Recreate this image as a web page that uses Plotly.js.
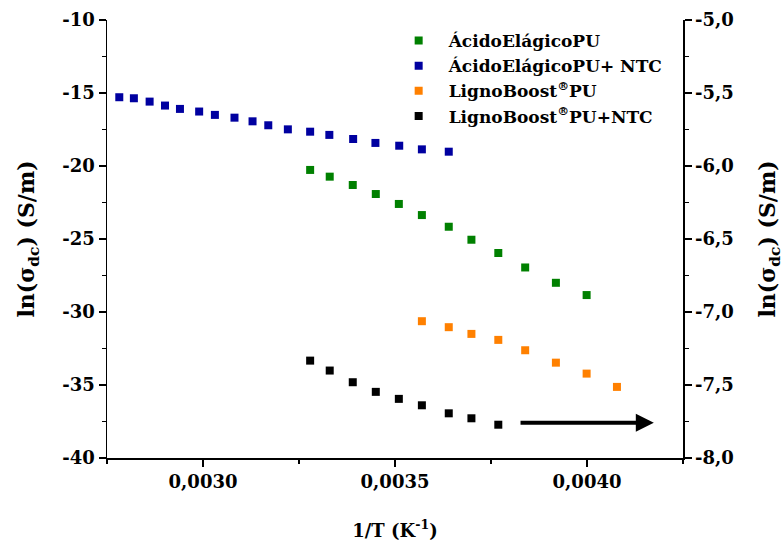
<!DOCTYPE html>
<html>
<head>
<meta charset="utf-8">
<script src="https://cdn.plot.ly/plotly-3.0.1.min.js"></script>
<style>html,body{margin:0;padding:0;background:#fff;}#chart{width:784px;height:544px;}</style>
</head>
<body>
<div id="chart"></div>
<script>
// ---- data ----
const seriesNames = ['ÁcidoElágicoPU', 'ÁcidoElágicoPU+ NTC', 'LignoBoost<sup>®</sup>PU', 'LignoBoost<sup>®</sup>PU+NTC'];

const aePU_x = [0.003279, 0.00333, 0.00339, 0.00345, 0.00351, 0.00357, 0.00364, 0.003699, 0.003769, 0.003839, 0.003919, 0.003999];
const aePU_y = [-20.27, -20.73, -21.30, -21.92, -22.60, -23.36, -24.16, -25.05, -25.96, -26.95, -28.00, -28.84];

const aeNTC_x = [0.002782, 0.00282, 0.002861, 0.002901, 0.00294, 0.00299, 0.003031, 0.003082, 0.003129, 0.00317, 0.003221, 0.003279, 0.003329, 0.003391, 0.003449, 0.003511, 0.00357, 0.00364];
const aeNTC_y = [-15.29, -15.36, -15.59, -15.86, -16.09, -16.27, -16.50, -16.69, -16.94, -17.21, -17.49, -17.65, -17.87, -18.15, -18.42, -18.61, -18.86, -19.02];

const lbPU_x = [0.00357, 0.00364, 0.003699, 0.003769, 0.003839, 0.003919, 0.003999, 0.004078];
const lbPU_y = [-30.63, -31.04, -31.50, -31.91, -32.62, -33.47, -34.22, -35.13];

// plotted against the right axis
const lbNTC_x = [0.003279, 0.00333, 0.00339, 0.00345, 0.00351, 0.00357, 0.00364, 0.003699, 0.003769];
const lbNTC_y = [-7.333, -7.401, -7.481, -7.547, -7.595, -7.639, -7.694, -7.728, -7.772];

// ---- ticks ----
const xTickVals = [0.0030, 0.0035, 0.0040];
const xTickText = ['0,0030', '0,0035', '0,0040'];
const xMinorVals = [0.00275, 0.00325, 0.00375, 0.00425];
const yTickVals = [-40, -35, -30, -25, -20, -15, -10];
const yTickText = ['-40', '-35', '-30', '-25', '-20', '-15', '-10'];
const yMinorVals = [-37.5, -32.5, -27.5, -22.5, -17.5, -12.5];
const y2TickVals = [-8.0, -7.5, -7.0, -6.5, -6.0, -5.5, -5.0];
const y2TickText = ['-8,0', '-7,5', '-7,0', '-6,5', '-6,0', '-5,5', '-5,0'];
const y2MinorVals = [-7.75, -7.25, -6.75, -6.25, -5.75, -5.25];

// arrow pointing to the right axis
const arrowFromX = 0.003823, arrowToX = 0.004174, arrowY = -37.58;

const FONT = 'DejaVu Serif, Liberation Serif, serif';
const colors = ['#008000', '#0000A0', '#FF8000', '#000000'];

function mk(x, y, i, yaxis) {
  return {
    x: x, y: y, type: 'scatter', mode: 'markers', name: seriesNames[i],
    yaxis: yaxis || 'y',
    marker: {symbol: 'square', size: 8, color: colors[i], line: {width: 0}}
  };
}

const traces = [
  mk(aePU_x, aePU_y, 0),
  mk(aeNTC_x, aeNTC_y, 1),
  mk(lbPU_x, lbPU_y, 2),
  mk(lbNTC_x, lbNTC_y, 3, 'y2')
];

const axLine = {showline: true, linecolor: '#000', linewidth: 1.5, zeroline: false, showgrid: false};
const tickFont = {family: FONT, size: 18, color: '#000', weight: 'bold'};
const yTitleFont = {family: FONT, size: 22, color: '#000', weight: 'bold'};
const xTitleFont = {family: FONT, size: 18, color: '#000', weight: 'bold'};

const layout = {
  width: 784, height: 544,
  margin: {l: 107, r: 101, t: 20, b: 86},
  paper_bgcolor: '#fff', plot_bgcolor: '#fff',
  font: {family: FONT, color: '#000', weight: 'bold'},
  showlegend: true,
  legend: {
    x: 0.489, y: 0.993, xanchor: 'left', yanchor: 'top',
    bgcolor: 'rgba(0,0,0,0)', borderwidth: 0,
    font: {family: FONT, size: 17, color: '#000', weight: 'bold'},
    itemwidth: 50
  },
  xaxis: Object.assign({}, axLine, {
    range: [0.00275, 0.00425],
    tickmode: 'array', tickvals: xTickVals, ticktext: xTickText,
    ticks: 'outside', ticklen: 7, tickwidth: 1.5, tickcolor: '#000',
    ticklabelstandoff: 0,
    minor: {tickmode: 'array', tickvals: xMinorVals, ticks: 'outside', ticklen: 4, tickwidth: 1.5, tickcolor: '#000', showgrid: false},
    tickfont: tickFont,
    title: {text: '1/T (K<sup>-1</sup>)', font: xTitleFont, standoff: 33}
  }),
  xaxis2: Object.assign({}, axLine, {
    range: [0.00275, 0.00425], overlaying: 'x', side: 'top', anchor: 'y',
    tickmode: 'array', tickvals: xTickVals, showticklabels: false,
    ticks: 'inside', ticklen: 8, tickwidth: 1.5, tickcolor: '#000',
    minor: {tickmode: 'array', tickvals: xMinorVals, ticks: 'inside', ticklen: 4, tickwidth: 1.5, tickcolor: '#000', showgrid: false}
  }),
  yaxis: Object.assign({}, axLine, {
    range: [-40, -10],
    tickmode: 'array', tickvals: yTickVals, ticktext: yTickText,
    ticks: 'outside', ticklen: 7, tickwidth: 1.5, tickcolor: '#000',
    minor: {tickmode: 'array', tickvals: yMinorVals, ticks: 'outside', ticklen: 4, tickwidth: 1.5, tickcolor: '#000', showgrid: false},
    tickfont: tickFont,
    title: {text: 'ln(σ<sub>dc</sub>) (S/m)', font: yTitleFont, standoff: 21}
  }),
  yaxis2: Object.assign({}, axLine, {
    range: [-8, -5], overlaying: 'y', side: 'right', anchor: 'x',
    tickmode: 'array', tickvals: y2TickVals, ticktext: y2TickText,
    ticks: 'outside', ticklen: 7, tickwidth: 1.5, tickcolor: '#000',
    minor: {tickmode: 'array', tickvals: y2MinorVals, ticks: 'outside', ticklen: 4, tickwidth: 1.5, tickcolor: '#000', showgrid: false},
    tickfont: tickFont,
    title: {text: 'ln(σ<sub>dc</sub>) (S/m)', font: yTitleFont, standoff: 29}
  }),
  annotations: [{
    x: arrowToX, y: arrowY, xref: 'x', yref: 'y',
    ax: arrowFromX, ay: arrowY, axref: 'x', ayref: 'y',
    text: '', showarrow: true, arrowhead: 2, arrowsize: 0.9, arrowwidth: 4,
    arrowcolor: '#000', standoff: 0, startstandoff: 0
  }]
};

Plotly.newPlot('chart', traces, layout, {displayModeBar: false, staticPlot: true});
</script>
</body>
</html>
